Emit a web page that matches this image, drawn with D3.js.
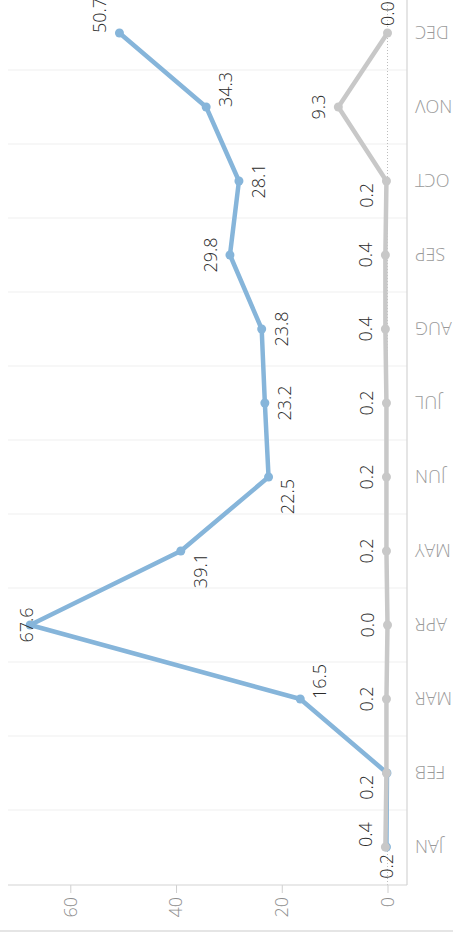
<!DOCTYPE html>
<html>
<head>
<meta charset="utf-8">
<script src="https://cdn.jsdelivr.net/npm/d3@7"></script>
<style>
  html, body { margin: 0; padding: 0; background: #fff; }
  svg { display: block; font-family: "Open Sans", "Noto Sans", sans-serif; }
</style>
</head>
<body>
<svg id="chart" width="453" height="932"></svg>
<script>
// Monthly values for two series, months along the category axis
const months = ["JAN", "FEB", "MAR", "APR", "MAY", "JUN", "JUL", "AUG", "SEP", "OCT", "NOV", "DEC"];
const seriesA = [0.2, 0.1, 16.5, 67.6, 39.1, 22.5, 23.2, 23.8, 29.8, 28.1, 34.3, 50.7];
const seriesB = [0.4, 0.2, 0.2, 0.0, 0.2, 0.2, 0.2, 0.4, 0.4, 0.2, 9.3, 0.0];
const valueTicks = [0, 20, 40, 60];

// Where each value label sits relative to its point
const placeA = ["left", "none", "below-right", "clamp-above", "below-left", "below-left",
                "below", "below", "above", "below", "below-right", "above-right"];
const placeB = ["above-right", "above-left", "above", "above", "above", "above",
                "above", "above", "above", "above-left", "above", "right"];

const W = 932, H = 453;          // drawing frame before the quarter turn
const paneTop = 8, paneBottom = 407, paneLeft = 47;

const svg = d3.select("#chart");
const g = svg.append("g").attr("transform", `translate(0,${W}) rotate(-90)`);

const x = d3.scaleBand().domain(months).range([48, 936]).padding(0);
const y = d3.scaleLinear().domain([0, 60]).range([387.5, 70.3]);

// outer rule
g.append("line").attr("x1", 1).attr("x2", 1).attr("y1", 0).attr("y2", H)
  .attr("stroke", "#dcdcdc").attr("stroke-width", 1.5);

// band separators
g.append("g").selectAll("line")
  .data(months.slice(1))
  .join("line")
  .attr("x1", d => x(d)).attr("x2", d => x(d))
  .attr("y1", paneTop).attr("y2", paneBottom)
  .attr("stroke", "#efefef").attr("stroke-width", 1.2);

// zero reference line
g.append("line")
  .attr("x1", paneLeft).attr("x2", W)
  .attr("y1", y(0)).attr("y2", y(0))
  .attr("stroke", "#bdbdbd").attr("stroke-width", 1)
  .attr("stroke-dasharray", "1,2");

// value axis
const yAxis = d3.axisLeft(y).tickValues(valueTicks).tickSize(8).tickPadding(4).tickFormat(d3.format("d"));
const yAx = g.append("g").attr("transform", `translate(${paneLeft},0)`).call(yAxis);
yAx.select(".domain").remove();
yAx.selectAll(".tick line").attr("stroke", "#cfcfcf");
yAx.selectAll(".tick text")
  .attr("fill", "#8f8f8f").attr("font-size", 18).attr("font-weight", 300)
  .attr("font-family", "'Open Sans', sans-serif");
g.append("line").attr("x1", paneLeft).attr("x2", paneLeft)
  .attr("y1", paneTop).attr("y2", paneBottom)
  .attr("stroke", "#d4d4d4").attr("stroke-width", 1.2);

// category axis line
g.append("line").attr("x1", paneLeft).attr("x2", W)
  .attr("y1", paneBottom).attr("y2", paneBottom)
  .attr("stroke", "#d4d4d4").attr("stroke-width", 1.2);

// month labels
g.append("g").selectAll("text")
  .data(months)
  .join("text")
  .attr("transform", d => `translate(${x(d) + x.bandwidth() / 2},${paneBottom + 8}) rotate(-90)`)
  .attr("text-anchor", "end")
  .attr("dominant-baseline", "central")
  .attr("fill", "#9a9a9a")
  .attr("font-size", 18)
  .attr("font-weight", 300)
  .text(d => d);

const cx = m => x(m) + x.bandwidth() / 2;
const line = d3.line().x((d, i) => cx(months[i])).y(d => y(d));

function drawSeries(values, color) {
  g.append("path").datum(values)
    .attr("d", line)
    .attr("fill", "none")
    .attr("stroke", color)
    .attr("stroke-width", 4.5)
    .attr("stroke-linejoin", "round");
  g.append("g").selectAll("circle")
    .data(values)
    .join("circle")
    .attr("cx", (d, i) => cx(months[i]))
    .attr("cy", d => y(d))
    .attr("r", 4.5)
    .attr("fill", color);
}

const off = 19.5, capHalf = 6.4;
function labelPos(px, py, code) {
  let tx = px, anchor = "middle", yc = py;
  switch (code) {
    case "above": yc = py - off; break;
    case "below": yc = py + off; break;
    case "above-right": anchor = "start"; yc = py - off; break;
    case "below-right": anchor = "start"; yc = py + off; break;
    case "above-left": tx = px - 2; anchor = "end"; yc = py - off; break;
    case "below-left": tx = px - 2; anchor = "end"; yc = py + off; break;
    case "left": tx = px - 7; anchor = "end"; break;
    case "right": tx = px + 7; anchor = "start"; break;
    case "clamp-above": yc = Math.max(py - off, paneTop + off - 1); break;
  }
  return { tx, ty: yc + capHalf, anchor };
}

function drawLabels(values, places) {
  const items = values.map((v, i) => ({ v, m: months[i], p: places[i] })).filter(d => d.p !== "none");
  g.append("g").selectAll("text")
    .data(items)
    .join("text")
    .each(function (d) {
      const pos = labelPos(cx(d.m), y(d.v), d.p);
      d3.select(this).attr("x", pos.tx).attr("y", pos.ty).attr("text-anchor", pos.anchor);
    })
    .attr("fill", "#2b2b2b")
    .attr("font-size", 18)
    .attr("font-weight", 300)
    .text(d => d3.format(".1f")(d.v));
}

drawSeries(seriesA, "#86b5da");
drawSeries(seriesB, "#c8c8c8");
drawLabels(seriesA, placeA);
drawLabels(seriesB, placeB);
</script>
</body>
</html>
